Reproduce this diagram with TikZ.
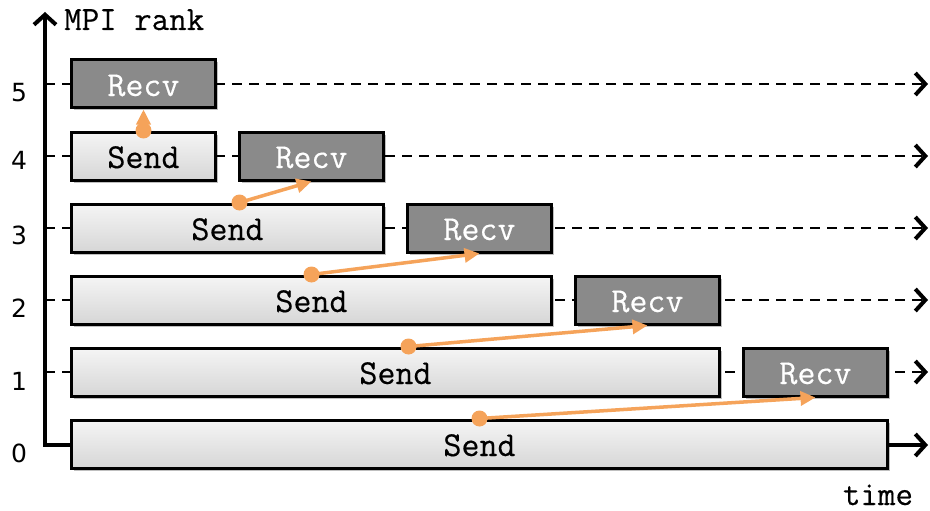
\documentclass[tikz,border=0pt]{standalone}
\usepackage{fontspec}
\newfontfamily\ranksans{DejaVu Sans}
\newfontfamily\cour[FakeBold=0.4]{Latin Modern Mono}
\usetikzlibrary{arrows.meta,shadows}
\definecolor{og}{HTML}{F5A35A}
\definecolor{rg}{HTML}{8A8A8A}
\begin{document}
\begin{tikzpicture}[x=1pt,y=-1pt,
  box/.style={draw=black, line width=3pt, minimum height=48pt, inner sep=0pt, anchor=west,
    text height=24pt, text depth=0pt,
    font=\fontsize{35}{38}\cour,
    drop shadow={opacity=0.25, shadow xshift=2pt, shadow yshift=-2.5pt, fill=black}},
  sendbox/.style={box, top color=gray!8, bottom color=gray!32, text=black},
  recvbox/.style={box, fill=rg, text=white},
  lane/.style={line width=2.4pt, dash pattern=on 10pt off 7pt,
    -{Straight Barb[length=10pt,width=22pt,line width=4pt]}},
  axis/.style={line width=4pt, {Straight Barb[length=10pt,width=22pt,line width=4pt]}-{Straight Barb[length=10pt,width=22pt,line width=4pt]}},
  msg/.style={og, line width=3.5pt, -{Triangle[length=15pt,width=14pt]}},
  dot/.style={og},
  ranklbl/.style={font=\fontsize{25}{28}\ranksans, inner sep=0pt},
  axlbl/.style={font=\fontsize{34}{38}\cour, inner sep=0pt}
]
\useasboundingbox (0,0) rectangle (930,511);
% lanes
\coordinate (o) at (45,445);
\coordinate (top) at (45,12);
\coordinate (tend) at (928,445);
\foreach \r/\y in {5/84,4/156,3/228,2/300,1/372}{
  \coordinate (ls\r) at (45,\y);
  \coordinate (le\r) at (928,\y);
  \draw[lane] (ls\r) -- (le\r);
}
\draw[axis] (top) -- (o) -- (tend);
% labels
\node[axlbl, anchor=base west] (mpi) at (64,30) {MPI rank};
\node[axlbl, anchor=base] (time) at (878,505) {time};
\node[ranklbl] (n5) at (19,93) {5};
\node[ranklbl] (n4) at (19,160) {4};
\node[ranklbl] (n3) at (19,235) {3};
\node[ranklbl] (n2) at (19,308) {2};
\node[ranklbl] (n1) at (19,381) {1};
\node[ranklbl] (n0) at (19,453) {0};
% boxes
\node[recvbox, minimum width=144pt] (r5) at (70,84) {Recv};
\node[sendbox, minimum width=144pt] (s4) at (70,156) {Send};
\node[recvbox, minimum width=144pt] (r4) at (238,156) {Recv};
\node[sendbox, minimum width=312pt] (s3) at (70,228) {Send};
\node[recvbox, minimum width=144pt] (r3) at (406,228) {Recv};
\node[sendbox, minimum width=480pt] (s2) at (70,300) {Send};
\node[recvbox, minimum width=144pt] (r2) at (574,300) {Recv};
\node[sendbox, minimum width=648pt] (s1) at (70,372) {Send};
\node[recvbox, minimum width=144pt] (r1) at (742,372) {Recv};
\node[sendbox, minimum width=816pt] (s0) at (70,444) {Send};
% messages
\coordinate (d5) at (s4.north);
\coordinate (d4) at ([xshift=12pt]s3.north);
\coordinate (d3) at (s2.north);
\coordinate (d2) at ([xshift=13pt]s1.north);
\coordinate (d1) at (s0.north);
\foreach \a/\b in {d5/r5,d4/r4,d3/r3,d2/r2,d1/r1}{
  \draw[msg] (\a) -- (\b.south);
  \fill[dot] (\a) circle (8pt);
}
\end{tikzpicture}
\end{document}
